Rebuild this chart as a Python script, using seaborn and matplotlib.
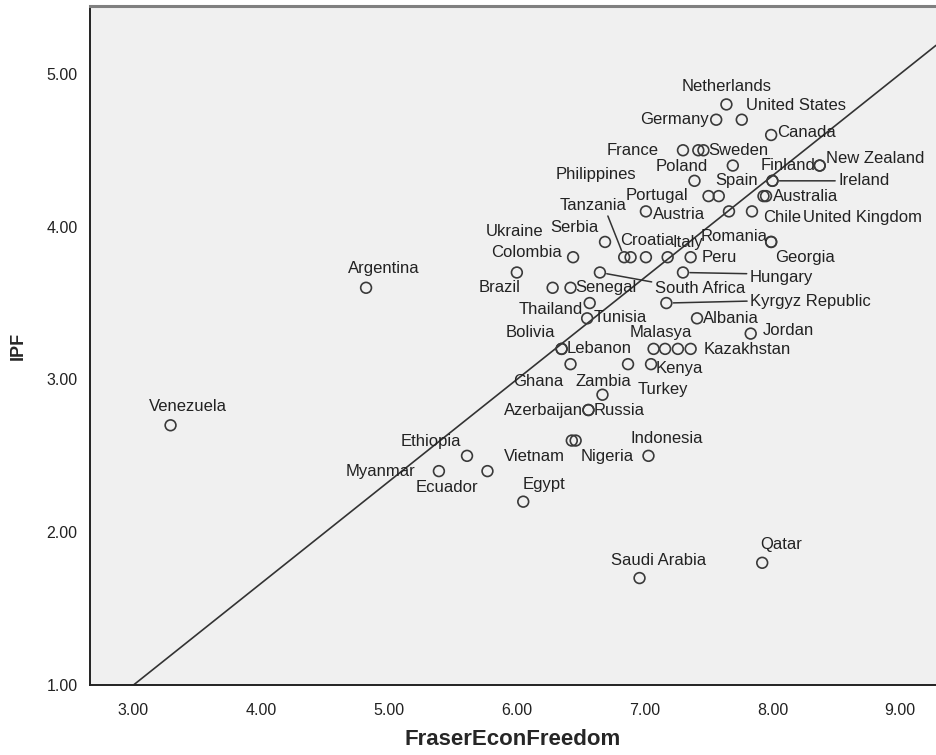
import numpy as np
import pandas as pd
import matplotlib
matplotlib.use("Agg")
import matplotlib.pyplot as plt
import seaborn as sns

# values (empty name = unlabelled point)
countries = [
    "Netherlands", "Germany", "United States", "Canada", "France", "", "Sweden",
    "Poland", "Finland", "New Zealand", "Philippines", "Spain", "Ireland",
    "Portugal", "", "Australia", "", "Austria", "United Kingdom", "Chile",
    "Tanzania", "Croatia", "", "Italy", "Peru", "Serbia", "Romania", "Georgia",
    "Ukraine", "Colombia", "Brazil", "Senegal", "Argentina", "South Africa",
    "Hungary", "Thailand", "Kyrgyz Republic", "Tunisia", "Albania", "Jordan",
    "Bolivia", "Lebanon", "Malasya", "", "", "Kazakhstan", "Ghana", "Zambia",
    "Kenya", "Turkey", "Azerbaijan", "Russia", "Venezuela", "Ethiopia",
    "Myanmar", "Ecuador", "Vietnam", "Nigeria", "Indonesia", "Egypt",
    "Saudi Arabia", "Qatar",
]
econ_freedom = [
    7.64, 7.56, 7.76, 7.99, 7.30, 7.42, 7.46,
    7.69, 8.37, 8.37, 7.39, 8.00, 8.00,
    7.50, 7.58, 7.95, 7.93, 7.01, 7.66, 7.84,
    6.84, 6.89, 7.01, 7.18, 7.36, 6.69, 7.99, 7.99,
    6.00, 6.44, 6.28, 6.42, 4.82, 6.65,
    7.30, 6.57, 7.17, 6.55, 7.41, 7.83,
    6.35, 6.35, 7.07, 7.16, 7.26, 7.36, 6.42, 6.87,
    7.05, 6.67, 6.56, 6.56, 3.29, 5.61,
    5.39, 5.77, 6.43, 6.46, 7.03, 6.05,
    6.96, 7.92,
]
ipf = [
    4.8, 4.7, 4.7, 4.6, 4.5, 4.5, 4.5,
    4.4, 4.4, 4.4, 4.3, 4.3, 4.3,
    4.2, 4.2, 4.2, 4.2, 4.1, 4.1, 4.1,
    3.8, 3.8, 3.8, 3.8, 3.8, 3.9, 3.9, 3.9,
    3.7, 3.8, 3.6, 3.6, 3.6, 3.7,
    3.7, 3.5, 3.5, 3.4, 3.4, 3.3,
    3.2, 3.2, 3.2, 3.2, 3.2, 3.2, 3.1, 3.1,
    3.1, 2.9, 2.8, 2.8, 2.7, 2.5,
    2.4, 2.4, 2.6, 2.6, 2.5, 2.2,
    1.7, 1.8,
]

# reference line drawn through these two points
ref_line_x = [3.0, 9.0]
ref_line_y = [1.0, 5.0]

x_ticks = [3, 4, 5, 6, 7, 8, 9]
y_ticks = [1, 2, 3, 4, 5]

# label placement in pixels from the point: dx, dy, alignment, leader line
label_pos = {
    "Netherlands": (0, 18, "center", None),
    "Germany": (-7, 0, "right", None),
    "United States": (4, 14, "left", None),
    "Canada": (6, 2, "left", None),
    "France": (-24, 0, "right", None),
    "Sweden": (5, 0, "left", None),
    "Poland": (-25, -1, "right", None),
    "Finland": (-4, 0, "right", None),
    "New Zealand": (6, 7, "left", None),
    "Philippines": (-58, 6, "right", None),
    "Spain": (-15, 0, "right", None),
    "Ireland": (66, 0, "left", (0, 0.5)),
    "Portugal": (-20, 1, "right", None),
    "Australia": (7, 0, "left", None),
    "Austria": (7, -3, "left", None),
    "United Kingdom": (74, -6, "left", None),
    "Chile": (11, -6, "left", None),
    "Tanzania": (-31, 52, "center", (0.7, 0)),
    "Croatia": (-10, 17, "left", None),
    "Italy": (5, 15, "left", None),
    "Peru": (11, 0, "left", None),
    "Serbia": (-6, 14, "right", None),
    "Romania": (-4, 5, "right", None),
    "Georgia": (4, -16, "left", None),
    "Ukraine": (-2, 41, "center", None),
    "Colombia": (-11, 5, "right", None),
    "Brazil": (-32, 0, "right", None),
    "Senegal": (5, 0, "left", None),
    "Argentina": (-18, 19, "left", None),
    "South Africa": (55, -16, "left", (0, 0.9)),
    "Hungary": (67, -5, "left", (0, 0.75)),
    "Thailand": (-7, -6, "right", None),
    "Kyrgyz Republic": (84, 2, "left", (0, 0.5)),
    "Tunisia": (6, 1, "left", None),
    "Albania": (6, 0, "left", None),
    "Jordan": (12, 3, "left", None),
    "Bolivia": (-6, 16, "right", None),
    "Lebanon": (5, 0, "left", None),
    "Malasya": (7, 16, "center", None),
    "Kazakhstan": (13, -1, "left", None),
    "Ghana": (-7, -17, "right", None),
    "Zambia": (3, -17, "right", None),
    "Kenya": (5, -4, "left", None),
    "Turkey": (35, 5, "left", None),
    "Azerbaijan": (-5, 0, "right", None),
    "Russia": (5, 0, "left", None),
    "Venezuela": (-22, 19, "left", None),
    "Ethiopia": (-6, 14, "right", None),
    "Myanmar": (-24, 0, "right", None),
    "Ecuador": (-9, -16, "right", None),
    "Vietnam": (-7, -16, "right", None),
    "Nigeria": (5, -16, "left", None),
    "Indonesia": (-18, 17, "left", None),
    "Egypt": (-1, 17, "left", None),
    "Saudi Arabia": (-29, 18, "left", None),
    "Qatar": (-2, 18, "left", None),
}

df = pd.DataFrame({"Country": countries, "FraserEconFreedom": econ_freedom, "IPF": ipf})

sns.set_style("white")
plt.rcParams["font.family"] = ["Liberation Sans", "DejaVu Sans"]

fig = plt.figure(figsize=(9.36, 7.55), dpi=100)
ax = fig.add_axes([0.0962, 0.0927, 0.9038, 0.8995])
ax.set_facecolor("#f0f0f0")

sns.scatterplot(data=df, x="FraserEconFreedom", y="IPF", ax=ax, s=60,
                marker="o", facecolor="none", edgecolor="#3a3a3a",
                linewidth=1.2, zorder=3)

ax.axline((ref_line_x[0], ref_line_y[0]), (ref_line_x[1], ref_line_y[1]),
          color="#333333", lw=1.2, zorder=2)

for name, xv, yv in zip(countries, econ_freedom, ipf):
    if not name:
        continue
    dx, dy, ha, lead = label_pos[name]
    arrow = None
    if lead is not None:
        arrow = dict(arrowstyle="-", color="#333333", lw=1.1,
                     shrinkA=0, shrinkB=5, relpos=lead)
    ax.annotate(name, (xv, yv), xytext=(dx, dy), textcoords="offset pixels",
                ha=ha, va="center", fontsize=12, color="#222222",
                arrowprops=arrow)

ax.set_xlim(2.66, 9.28)
ax.set_ylim(1.0, 5.445)
ax.set_xticks(x_ticks)
ax.set_yticks(y_ticks)
ax.set_xticklabels([f"{v:.2f}" for v in x_ticks])
ax.set_yticklabels([f"{v:.2f}" for v in y_ticks])
ax.tick_params(axis="both", direction="out", length=7, width=1.2,
               labelsize=11.5, color="#222222", labelcolor="#222222", pad=2)
ax.tick_params(axis="x", pad=6)

ax.set_xlabel("FraserEconFreedom", fontsize=16, fontweight="bold", labelpad=8)
ax.set_ylabel("IPF", fontsize=13, fontweight="bold", labelpad=14)

for side in ["left", "bottom"]:
    ax.spines[side].set_color("#222222")
    ax.spines[side].set_linewidth(1.4)
ax.spines["top"].set_color("#808080")
ax.spines["top"].set_linewidth(2.2)
ax.spines["right"].set_visible(False)

fig.savefig("out.png", dpi=100, facecolor="white")
